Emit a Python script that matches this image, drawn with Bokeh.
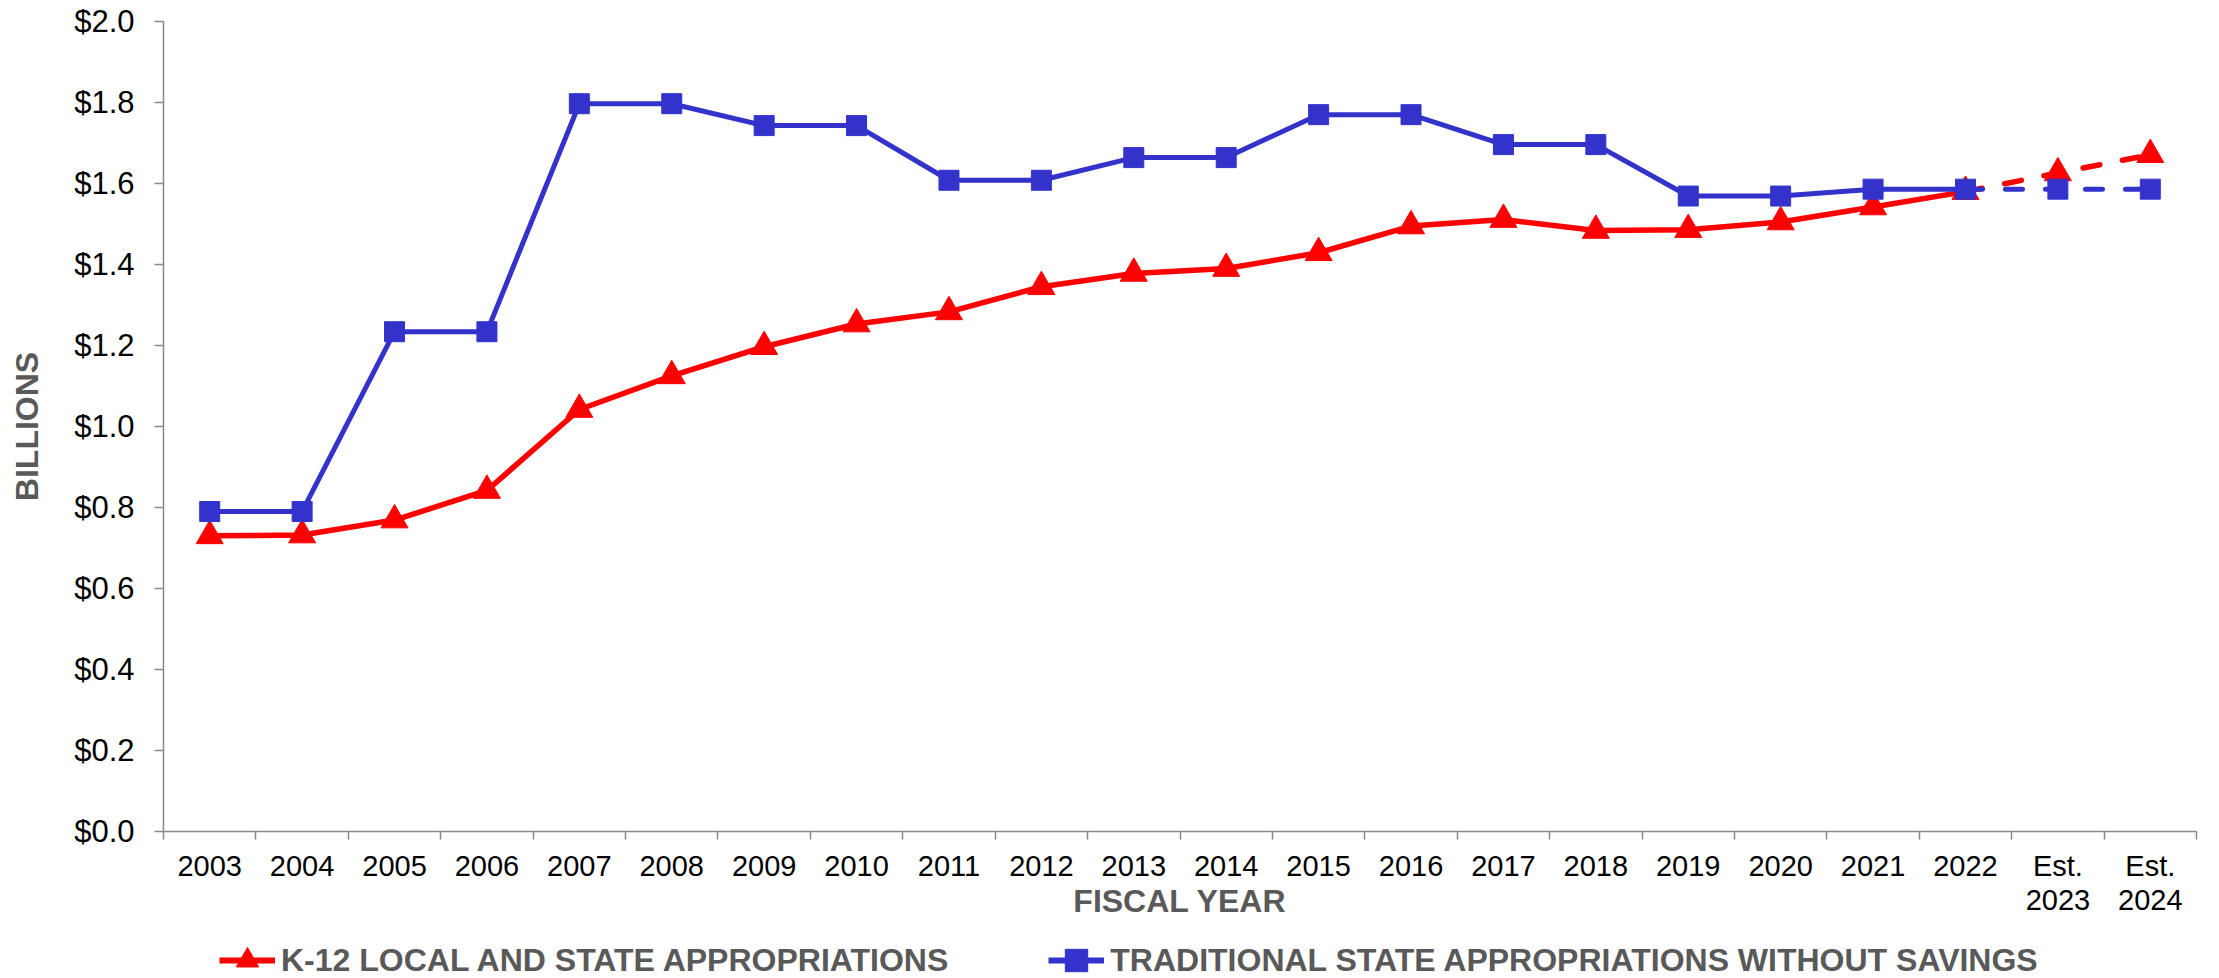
from bokeh.plotting import figure
from bokeh.layouts import column
from bokeh.models import Range1d, FixedTicker, NumeralTickFormatter, Legend, LegendItem
from bokeh.embed import file_html
from bokeh.resources import INLINE

# ---- data ----
years = ["2003", "2004", "2005", "2006", "2007", "2008", "2009", "2010", "2011",
         "2012", "2013", "2014", "2015", "2016", "2017", "2018", "2019", "2020",
         "2021", "2022", "Est.\n2023", "Est.\n2024"]
k12 = [0.730, 0.732, 0.769, 0.842, 1.042, 1.125, 1.197, 1.253, 1.283, 1.345, 1.378,
       1.390, 1.429, 1.495, 1.511, 1.484, 1.486, 1.505, 1.542, 1.580, 1.626, 1.671]
trad = [0.790, 0.790, 1.234, 1.234, 1.797, 1.797, 1.743, 1.743, 1.608, 1.608, 1.664,
        1.664, 1.770, 1.770, 1.696, 1.696, 1.569, 1.569, 1.586, 1.586, 1.586, 1.586]
n_actual = 20  # 2003..2022 are actuals, the rest are estimates
y_ticks = [0.0, 0.2, 0.4, 0.6, 0.8, 1.0, 1.2, 1.4, 1.6, 1.8, 2.0]
label_k12 = "K-12 LOCAL AND STATE APPROPRIATIONS"
label_trad = "TRADITIONAL STATE APPROPRIATIONS WITHOUT SAVINGS"

RED = "#FF0000"
BLUE = "#3333CC"
GRAY = "#595959"
AXIS = "#898989"
FONT = "Liberation Sans"

xs = [i + 0.5 for i in range(len(years))]

p = figure(width=2219, height=922, output_backend="svg", toolbar_location=None,
           x_range=Range1d(0, len(years)), y_range=Range1d(0, 2.0),
           min_border_left=163, min_border_right=23, min_border_top=21,
           min_border_bottom=90)
p.grid.visible = False
p.outline_line_color = None
p.background_fill_color = "white"
p.border_fill_color = "white"

# lines
p.line(xs[:n_actual], k12[:n_actual], line_color=RED, line_width=5.5)
p.line(xs[n_actual - 1:], k12[n_actual - 1:], line_color=RED, line_width=5.5,
       line_dash="17 23", line_cap="round")
p.scatter(xs, k12, marker="triangle", size=27, fill_color=RED, line_color=RED)

p.line(xs[:n_actual], trad[:n_actual], line_color=BLUE, line_width=5)
p.line(xs[n_actual - 1:], trad[n_actual - 1:], line_color=BLUE, line_width=5,
       line_dash="17 23", line_cap="round")
p.scatter(xs, trad, marker="square", size=20, fill_color=BLUE, line_color=BLUE)

# y axis
ya = p.yaxis[0]
ya.ticker = FixedTicker(ticks=y_ticks)
ya.formatter = NumeralTickFormatter(format="$0.0")
ya.axis_line_color = AXIS
ya.axis_line_width = 1.5
ya.major_tick_line_color = AXIS
ya.major_tick_line_width = 1.5
ya.major_tick_out = 9
ya.major_tick_in = 0
ya.minor_tick_line_color = None
ya.major_label_standoff = 20
ya.major_label_text_font = FONT
ya.major_label_text_font_size = "31px"
ya.major_label_text_color = "black"
ya.axis_label = "BILLIONS"
ya.axis_label_text_font = FONT
ya.axis_label_text_font_size = "32px"
ya.axis_label_text_font_style = "bold"
ya.axis_label_text_color = GRAY
ya.axis_label_standoff = 26

# x axis: labels at category centres, ticks at category boundaries
xa = p.xaxis[0]
xa.ticker = FixedTicker(ticks=xs, minor_ticks=list(range(len(years) + 1)))
xa.major_label_overrides = {x: y for x, y in zip(xs, years)}
xa.axis_line_color = AXIS
xa.axis_line_width = 1.5
xa.major_tick_line_color = None
xa.major_tick_out = 0
xa.major_tick_in = 0
xa.minor_tick_line_color = AXIS
xa.minor_tick_line_width = 1.5
xa.minor_tick_out = 8
xa.minor_tick_in = 0
xa.major_label_standoff = 10
xa.major_label_text_font = FONT
xa.major_label_text_font_size = "29px"
xa.major_label_text_color = "black"
xa.major_label_text_line_height = 1.08
xa.axis_label = "FISCAL YEAR"
xa.axis_label_text_font = FONT
xa.axis_label_text_font_size = "32px"
xa.axis_label_text_font_style = "bold"
xa.axis_label_text_color = GRAY
xa.axis_label_standoff = -36

# legend strip below the chart (its renderers are hidden; only the key is shown)
lg = figure(width=2219, height=56, output_backend="svg", toolbar_location=None,
            x_axis_type=None, y_axis_type=None,
            x_range=Range1d(0, len(years)), y_range=Range1d(0, 2.0),
            min_border=0, min_border_left=0, min_border_right=0,
            min_border_top=0, min_border_bottom=0)
lg.grid.visible = False
lg.outline_line_color = None
lg_r_line = lg.line(xs, k12, line_color=RED, line_width=6, visible=False)
lg_r_pts = lg.scatter(xs, k12, marker="triangle", fill_color=RED, line_color=RED,
                      visible=False)
lg_b_line = lg.line(xs, trad, line_color=BLUE, line_width=6, visible=False)
lg_b_pts = lg.scatter(xs, trad, marker="square", fill_color=BLUE, line_color=BLUE,
                      visible=False)

legend = Legend(items=[LegendItem(label=label_k12, renderers=[lg_r_line, lg_r_pts]),
                       LegendItem(label=label_trad, renderers=[lg_b_line, lg_b_pts])],
                orientation="horizontal", location=(56, -11),
                label_text_font=FONT, label_text_font_size="32px",
                label_text_font_style="bold", label_text_color=GRAY,
                glyph_width=56, glyph_height=58, label_standoff=6, spacing=100,
                border_line_color=None, background_fill_alpha=0,
                inactive_fill_alpha=0, click_policy="none",
                padding=0, margin=0)
lg.add_layout(legend, "center")

layout = column(p, lg, spacing=0)
open("out.html", "w").write(file_html(layout, INLINE))
